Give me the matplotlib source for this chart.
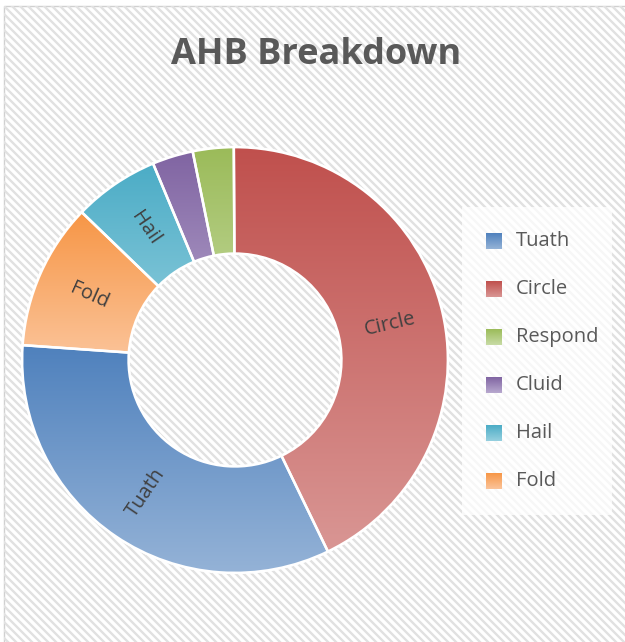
import numpy as np
import matplotlib.pyplot as plt
from matplotlib.colors import LinearSegmentedColormap
from matplotlib.collections import LineCollection
from matplotlib.patches import Rectangle, Wedge

categories = ['Tuath', 'Circle', 'Respond', 'Cluid', 'Hail', 'Fold']
shares = [33.3, 42.9, 3.1, 3.1, 6.5, 11.1]
# (top colour, bottom colour) for the vertical gradient of each segment
top_colors = ['#4f81bd', '#c0504d', '#9bbb59', '#8064a2', '#4bacc6', '#f79646']
bottom_colors = ['#95b3d7', '#d99694', '#c8dca6', '#b8a9cf', '#96d0df', '#fbc49a']
labelled = ['Tuath', 'Circle', 'Hail', 'Fold']

W, H = 625, 642
fig = plt.figure(figsize=(W / 100, H / 100), dpi=100)
fig.patch.set_facecolor('white')

# striped chart-area background
bg = fig.add_axes([0, 0, 1, 1], zorder=-5)
bg.set_xlim(0, W)
bg.set_ylim(H, 0)
bg.axis('off')
frame = Rectangle((4, 6), W + 20, H + 20, facecolor='white', edgecolor='#d0d0d0', lw=1.0)
bg.add_patch(frame)
step = 8
segs = [[(x0, 0), (x0 + H + 40, H + 40)] for x0 in np.arange(-H - 40, W + 40, step)]
stripes = LineCollection(segs, colors='#e1e1e1', linewidths=1.7)
bg.add_collection(stripes)
stripes.set_clip_path(frame)

# doughnut
cx, cy, R = 235, 360, 215
ax = fig.add_axes([(cx - R) / W, (H - cy - R) / H, 2 * R / W, 2 * R / H])
ax.axis('off')

wedges, _ = ax.pie(shares, startangle=176, counterclock=True, radius=1.0,
                   wedgeprops=dict(width=0.5, edgecolor='white', linewidth=1.8))

grad = np.linspace(0, 1, 256).reshape(-1, 1)
for w, c0, c1 in zip(wedges, top_colors, bottom_colors):
    w.set_facecolor(c0)
    verts = w.get_patch_transform().transform(w.get_path().vertices)
    x0, x1 = verts[:, 0].min(), verts[:, 0].max()
    y0, y1 = verts[:, 1].min(), verts[:, 1].max()
    cmap = LinearSegmentedColormap.from_list('g', [c0, c1])
    im = ax.imshow(grad, cmap=cmap, extent=(x0, x1, y0, y1), origin='upper',
                   aspect='auto', zorder=w.get_zorder() + 0.1)
    im.set_clip_path(w)
    ax.add_patch(Wedge(w.center, w.r, w.theta1, w.theta2, width=w.width,
                       facecolor='none', edgecolor='white', lw=1.8,
                       zorder=w.get_zorder() + 0.2))
ax.set_xlim(-1.01, 1.01)
ax.set_ylim(-1.01, 1.01)

for w, name in zip(wedges, categories):
    if name not in labelled:
        continue
    mid = (w.theta1 + w.theta2) / 2
    rad = np.deg2rad(mid)
    rot = mid % 360
    if 90 < rot <= 270:
        rot -= 180
    elif rot > 270:
        rot -= 360
    ax.text(0.75 * np.cos(rad), 0.75 * np.sin(rad), name, rotation=rot,
            ha='center', va='center', rotation_mode='anchor',
            fontsize=14.5, color='#404040', family='Open Sans', zorder=10)

fig.text(316 / W, 1 - 55 / H, 'AHB Breakdown', ha='center', va='center',
         fontsize=26, fontweight='bold', color='#595959', family='Open Sans')

# legend
leg_ax = fig.add_axes([0, 0, 1, 1], zorder=5)
leg_ax.axis('off')
leg_ax.add_patch(Rectangle((462, 207), 150, 308, facecolor='white', alpha=0.75,
                           edgecolor='none', zorder=1))
for i, (name, c0, c1) in enumerate(zip(categories, top_colors, bottom_colors)):
    y = 241 + 48 * i
    cmap = LinearSegmentedColormap.from_list('g', [c0, c1])
    leg_ax.imshow(grad, cmap=cmap, extent=(486, 502, y + 8, y - 8), aspect='auto', zorder=3)
    leg_ax.text(516, y, name, va='center', ha='left', fontsize=14.5,
                color='#595959', family='Open Sans', zorder=4)
leg_ax.set_xlim(0, W)
leg_ax.set_ylim(H, 0)

fig.savefig('out.png', dpi=100)
